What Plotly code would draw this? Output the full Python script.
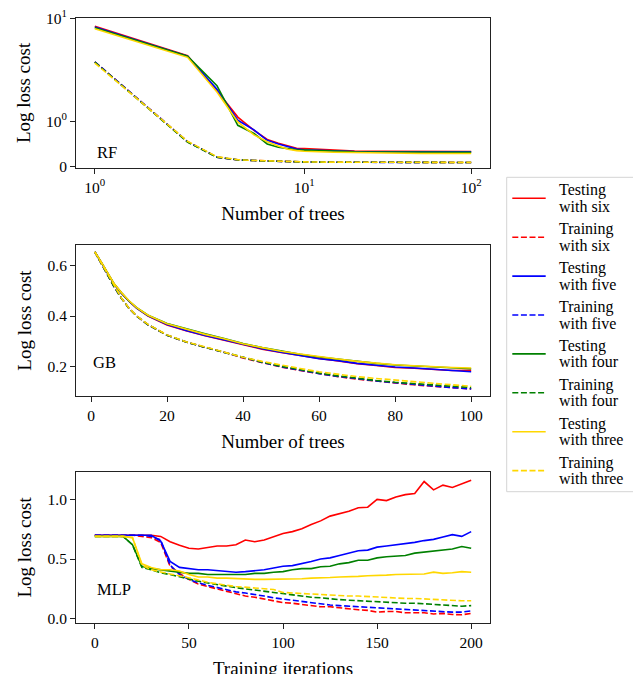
import numpy as np
import plotly.graph_objects as go

# ---------------- data ----------------
series_names = ["Testing with six", "Training with six", "Testing with five", "Training with five",
                "Testing with four", "Training with four", "Testing with three", "Training with three"]
colors = ["#ff0000", "#ff0000", "#0000ff", "#0000ff", "#008000", "#008000", "#ffd700", "#ffd700"]
dashes = ["solid", "6px,2.6px"] * 4

# RF (symlog axes)
rf_trees = [1, 2, 3, 4, 5, 6, 7, 8, 9, 10, 15, 20, 30, 40, 50, 60, 70, 80, 90, 100]
rf_test_six = [8.0, 3.5, 1.67, 1.09, 0.80, 0.60, 0.515, 0.456, 0.405, 0.40, 0.36, 0.345, 0.34, 0.335, 0.335, 0.333, 0.333, 0.333, 0.333, 0.333]
rf_train_six = [2.95, 0.55, 0.21, 0.152, 0.137, 0.125, 0.118, 0.112, 0.108, 0.105, 0.100, 0.098, 0.096, 0.095, 0.095, 0.094, 0.094, 0.094, 0.094, 0.094]
rf_test_five = [7.85, 3.45, 1.70, 1.02, 0.81, 0.58, 0.50, 0.44, 0.39, 0.37, 0.345, 0.335, 0.33, 0.33, 0.33, 0.33, 0.33, 0.33, 0.33, 0.33]
rf_train_five = [2.95, 0.55, 0.21, 0.150, 0.136, 0.124, 0.117, 0.111, 0.107, 0.104, 0.099, 0.097, 0.095, 0.094, 0.094, 0.093, 0.093, 0.093, 0.093, 0.093]
rf_test_four = [7.7, 3.45, 1.78, 0.91, 0.73, 0.50, 0.43, 0.40, 0.37, 0.365, 0.34, 0.33, 0.325, 0.32, 0.32, 0.32, 0.32, 0.32, 0.32, 0.32]
rf_train_four = [2.92, 0.54, 0.21, 0.151, 0.136, 0.125, 0.118, 0.112, 0.108, 0.105, 0.100, 0.098, 0.096, 0.095, 0.095, 0.094, 0.094, 0.094, 0.094, 0.094]
rf_test_three = [7.5, 3.35, 1.64, 0.985, 0.70, 0.55, 0.457, 0.385, 0.355, 0.34, 0.32, 0.31, 0.30, 0.295, 0.29, 0.29, 0.29, 0.29, 0.29, 0.29]
rf_train_three = [2.85, 0.56, 0.22, 0.155, 0.138, 0.126, 0.119, 0.113, 0.109, 0.106, 0.101, 0.099, 0.097, 0.096, 0.096, 0.095, 0.095, 0.095, 0.095, 0.095]

# GB
gb_trees = [1, 2, 3, 4, 5, 6, 8, 10, 12, 15, 20, 25, 30, 35, 40, 45, 50, 55, 60, 65, 70, 75, 80, 85, 90, 95, 100]
gb_test_six = [0.652, 0.630, 0.603, 0.577, 0.552, 0.527, 0.490, 0.458, 0.431, 0.400, 0.365, 0.342, 0.323, 0.305, 0.286, 0.270, 0.257, 0.244, 0.233, 0.224, 0.213, 0.206, 0.198, 0.195, 0.190, 0.186, 0.187]
gb_train_six = [0.652, 0.625, 0.597, 0.570, 0.543, 0.517, 0.470, 0.430, 0.400, 0.366, 0.325, 0.298, 0.277, 0.258, 0.235, 0.217, 0.200, 0.186, 0.173, 0.162, 0.152, 0.144, 0.137, 0.130, 0.124, 0.118, 0.114]
gb_test_five = [0.652, 0.630, 0.603, 0.577, 0.552, 0.527, 0.490, 0.458, 0.431, 0.401, 0.367, 0.343, 0.324, 0.306, 0.287, 0.272, 0.258, 0.246, 0.232, 0.225, 0.214, 0.207, 0.200, 0.196, 0.190, 0.184, 0.181]
gb_train_five = [0.652, 0.625, 0.597, 0.570, 0.543, 0.517, 0.470, 0.430, 0.400, 0.366, 0.325, 0.298, 0.277, 0.258, 0.236, 0.218, 0.201, 0.187, 0.174, 0.163, 0.153, 0.145, 0.138, 0.131, 0.125, 0.119, 0.114]
gb_test_four = [0.652, 0.630, 0.604, 0.578, 0.553, 0.528, 0.491, 0.459, 0.433, 0.403, 0.371, 0.349, 0.330, 0.312, 0.292, 0.276, 0.262, 0.250, 0.239, 0.230, 0.221, 0.214, 0.208, 0.204, 0.200, 0.196, 0.193]
gb_train_four = [0.652, 0.625, 0.597, 0.570, 0.543, 0.517, 0.470, 0.430, 0.400, 0.366, 0.325, 0.298, 0.277, 0.258, 0.236, 0.219, 0.203, 0.189, 0.176, 0.165, 0.155, 0.147, 0.140, 0.134, 0.128, 0.123, 0.119]
gb_test_three = [0.652, 0.631, 0.605, 0.579, 0.554, 0.529, 0.492, 0.460, 0.433, 0.403, 0.370, 0.348, 0.328, 0.311, 0.291, 0.276, 0.262, 0.251, 0.240, 0.231, 0.222, 0.215, 0.209, 0.205, 0.201, 0.198, 0.196]
gb_train_three = [0.652, 0.626, 0.598, 0.571, 0.544, 0.518, 0.471, 0.431, 0.401, 0.367, 0.326, 0.299, 0.278, 0.259, 0.238, 0.222, 0.207, 0.194, 0.181, 0.171, 0.162, 0.155, 0.148, 0.142, 0.136, 0.130, 0.124]

# MLP
mlp_iters = list(range(0, 201, 5))
mlp_test_six = [0.70, 0.70, 0.70, 0.70, 0.70, 0.70, 0.70, 0.69, 0.645, 0.615, 0.59, 0.585, 0.595, 0.61, 0.61, 0.62, 0.66, 0.645, 0.66, 0.69,
                0.715, 0.73, 0.755, 0.79, 0.82, 0.86, 0.88, 0.90, 0.93, 0.935, 1.00, 0.99, 1.02, 1.04, 1.05, 1.15, 1.08, 1.12, 1.10, 1.13, 1.16]
mlp_train_six = [0.70, 0.70, 0.70, 0.70, 0.70, 0.69, 0.68, 0.64, 0.44, 0.38, 0.33, 0.29, 0.27, 0.25, 0.23, 0.21, 0.19, 0.18, 0.165, 0.15,
                 0.135, 0.13, 0.12, 0.115, 0.10, 0.10, 0.09, 0.085, 0.075, 0.07, 0.055, 0.06, 0.06, 0.05, 0.047, 0.05, 0.04, 0.045, 0.035, 0.033, 0.045]
mlp_test_five = [0.70, 0.70, 0.70, 0.70, 0.70, 0.70, 0.70, 0.65, 0.48, 0.43, 0.42, 0.41, 0.41, 0.405, 0.395, 0.39, 0.395, 0.40, 0.41, 0.425,
                 0.44, 0.445, 0.46, 0.48, 0.50, 0.51, 0.53, 0.55, 0.57, 0.575, 0.60, 0.61, 0.62, 0.625, 0.64, 0.655, 0.665, 0.685, 0.705, 0.69, 0.73]
mlp_train_five = [0.70, 0.70, 0.70, 0.70, 0.70, 0.70, 0.69, 0.66, 0.45, 0.37, 0.33, 0.30, 0.28, 0.26, 0.24, 0.225, 0.215, 0.205, 0.19, 0.175,
                  0.165, 0.15, 0.14, 0.13, 0.12, 0.115, 0.11, 0.105, 0.10, 0.095, 0.09, 0.085, 0.08, 0.078, 0.075, 0.07, 0.06, 0.06, 0.055, 0.055, 0.065]
mlp_test_four = [0.69, 0.69, 0.69, 0.69, 0.62, 0.44, 0.42, 0.41, 0.40, 0.39, 0.38, 0.38, 0.37, 0.37, 0.37, 0.37, 0.37, 0.38, 0.38, 0.39,
                 0.395, 0.41, 0.42, 0.42, 0.435, 0.44, 0.46, 0.47, 0.49, 0.49, 0.51, 0.52, 0.525, 0.53, 0.55, 0.56, 0.57, 0.58, 0.585, 0.605, 0.59]
mlp_train_four = [0.69, 0.69, 0.69, 0.69, 0.62, 0.43, 0.41, 0.385, 0.37, 0.35, 0.335, 0.315, 0.30, 0.285, 0.27, 0.26, 0.25, 0.24, 0.23, 0.22,
                  0.205, 0.20, 0.19, 0.18, 0.175, 0.165, 0.16, 0.155, 0.15, 0.145, 0.14, 0.14, 0.135, 0.13, 0.13, 0.125, 0.12, 0.115, 0.11, 0.105, 0.11]
mlp_test_three = [0.69, 0.69, 0.69, 0.69, 0.68, 0.46, 0.43, 0.41, 0.41, 0.40, 0.37, 0.35, 0.35, 0.34, 0.34, 0.335, 0.335, 0.33, 0.33, 0.33,
                  0.33, 0.335, 0.335, 0.34, 0.34, 0.345, 0.35, 0.35, 0.355, 0.36, 0.36, 0.365, 0.37, 0.37, 0.37, 0.375, 0.39, 0.38, 0.385, 0.395, 0.39]
mlp_train_three = [0.69, 0.69, 0.69, 0.69, 0.68, 0.45, 0.41, 0.39, 0.375, 0.36, 0.345, 0.325, 0.305, 0.29, 0.28, 0.27, 0.265, 0.26, 0.25, 0.245,
                   0.22, 0.215, 0.21, 0.205, 0.20, 0.20, 0.195, 0.19, 0.19, 0.185, 0.18, 0.175, 0.175, 0.17, 0.17, 0.165, 0.165, 0.16, 0.155, 0.15, 0.15]

rf_series = [rf_test_six, rf_train_six, rf_test_five, rf_train_five, rf_test_four, rf_train_four, rf_test_three, rf_train_three]
gb_series = [gb_test_six, gb_train_six, gb_test_five, gb_train_five, gb_test_four, gb_train_four, gb_test_three, gb_train_three]
mlp_series = [mlp_test_six, mlp_train_six, mlp_test_five, mlp_train_five, mlp_test_four, mlp_train_four, mlp_test_three, mlp_train_three]

panel_labels = ["RF", "GB", "MLP"]
legend_lines = [("Testing", "with six"), ("Training", "with six"), ("Testing", "with five"), ("Training", "with five"),
                ("Testing", "with four"), ("Training", "with four"), ("Testing", "with three"), ("Training", "with three")]


# matplotlib-like symlog transform (linthresh=2, linscale=1, base 10)
def symlog(v, linthresh=2.0, linscale=1.0, base=10.0):
    v = np.asarray(v, dtype=float)
    adj = linscale / (1.0 - 1.0 / base)
    a = np.abs(v)
    safe = np.maximum(a, 1e-300)
    return np.where(a <= linthresh, v * adj,
                    np.sign(v) * linthresh * (adj + np.log(safe / linthresh) / np.log(base)))


FONT = "Liberation Serif"
W, H = 641, 674
OFF = 8  # page body margin in the browser
L, R, T, B = 76 - OFF, 490 - OFF, 18 - OFF, 623 - OFF  # plot area in figure px

fig = go.Figure()

for i in range(8):
    fig.add_trace(go.Scatter(x=symlog(rf_trees), y=symlog(rf_series[i]), mode="lines", name=series_names[i],
                             line=dict(color=colors[i], width=1.6, dash=dashes[i]), showlegend=False,
                             xaxis="x", yaxis="y"))
for i in range(8):
    fig.add_trace(go.Scatter(x=gb_trees, y=gb_series[i], mode="lines", name=series_names[i],
                             line=dict(color=colors[i], width=1.6, dash=dashes[i]), showlegend=False,
                             xaxis="x2", yaxis="y2"))
for i in range(8):
    fig.add_trace(go.Scatter(x=mlp_iters, y=mlp_series[i], mode="lines", name=series_names[i],
                             line=dict(color=colors[i], width=1.6, dash=dashes[i]), showlegend=False,
                             xaxis="x3", yaxis="y3"))

axis_common = dict(showline=True, mirror=True, linecolor="#222", linewidth=1, ticks="outside",
                   ticklen=5, tickwidth=1, tickcolor="#222", showgrid=False, zeroline=False,
                   ticklabeloverflow="allow",
                   tickfont=dict(family=FONT, size=15.5, color="black"), automargin=False)
title_font = dict(family=FONT, size=19, color="black")

# panel 1 ranges (symlog space)
tx = symlog([1, 100])
span = tx[1] - tx[0]
x1_range = [float(tx[0] - 0.05 * span), float(tx[1] + 0.05 * span)]

fig.update_layout(
    width=W, height=H, template="none",
    margin=dict(l=L, r=W - R, t=T, b=H - B, pad=0),
    plot_bgcolor="white", paper_bgcolor="white",
    xaxis=dict(axis_common, domain=[0, 1], anchor="y", range=x1_range,
               tickvals=[float(v) for v in symlog([1, 10, 100])],
               ticktext=["10<sup>0</sup>", "10<sup>1</sup>", "10<sup>2</sup>"],
               title=dict(text="Number of trees", font=title_font, standoff=12)),
    yaxis=dict(axis_common, domain=[0.7521, 1.0], anchor="x", range=[-0.03, float(symlog(10)) + 0.01],
               tickvals=[float(v) for v in symlog([0, 1, 10])],
               ticktext=["0", "10<sup>0</sup>", "10<sup>1</sup>"],
               title=dict(text="Log loss cost", font=title_font, standoff=10)),
    xaxis2=dict(axis_common, domain=[0, 1], anchor="y2", range=[-3.95, 104.95],
                tickvals=[0, 20, 40, 60, 80, 100],
                title=dict(text="Number of trees", font=title_font, standoff=12)),
    yaxis2=dict(axis_common, domain=[0.3752, 0.6248], anchor="x2", range=[0.086, 0.679],
                tickvals=[0.2, 0.4, 0.6], tickformat=".1f",
                title=dict(text="Log loss cost", font=title_font, standoff=10)),
    xaxis3=dict(axis_common, domain=[0, 1], anchor="y3", range=[-10, 210],
                tickvals=[0, 50, 100, 150, 200],
                title=dict(text="Training iterations", font=title_font, standoff=12)),
    yaxis3=dict(axis_common, domain=[0.0, 0.2496], anchor="x3", range=[-0.036, 1.23],
                tickvals=[0.0, 0.5, 1.0], tickformat=".1f",
                title=dict(text="Log loss cost", font=title_font, standoff=10)),
    showlegend=False,
)

# panel labels
anns = []
for k, (lab, yfrac, xfrac) in enumerate(zip(panel_labels, [0.10, 0.22, 0.225], [0.046, 0.036, 0.046])):
    suffix = "" if k == 0 else str(k + 1)
    anns.append(dict(text=lab, x=xfrac, y=yfrac, xref=f"x{suffix} domain", yref=f"y{suffix} domain",
                     xanchor="left", yanchor="middle", showarrow=False,
                     font=dict(family=FONT, size=16.5, color="black")))


# manual legend (reference page px -> paper coords)
def px_x(p):
    return (p - OFF - L) / (R - L)


def px_y(p):
    return (B - (p - OFF)) / (B - T)


shapes = [dict(type="rect", xref="paper", yref="paper", x0=px_x(506.7), x1=px_x(636.7),
               y0=px_y(491.7), y1=px_y(177.3), line=dict(color="#d4d4d4", width=1),
               fillcolor="rgba(255,255,255,0.8)", layer="above")]
for i in range(8):
    yc = 198.3 + i * 38.9
    shapes.append(dict(type="line", xref="paper", yref="paper", x0=px_x(512.3), x1=px_x(545.7),
                       y0=px_y(yc), y1=px_y(yc), line=dict(color=colors[i], width=1.6, dash=dashes[i]),
                       layer="above"))
    for j, txt in enumerate(legend_lines[i]):
        anns.append(dict(text=txt, x=px_x(557.5), y=px_y(yc - 8 + 16 * j), xref="paper", yref="paper",
                         xanchor="left", yanchor="middle", showarrow=False, borderpad=0,
                         font=dict(family=FONT, size=16, color="black")))

fig.update_layout(annotations=anns, shapes=shapes)

fig.write_html("out.html")
